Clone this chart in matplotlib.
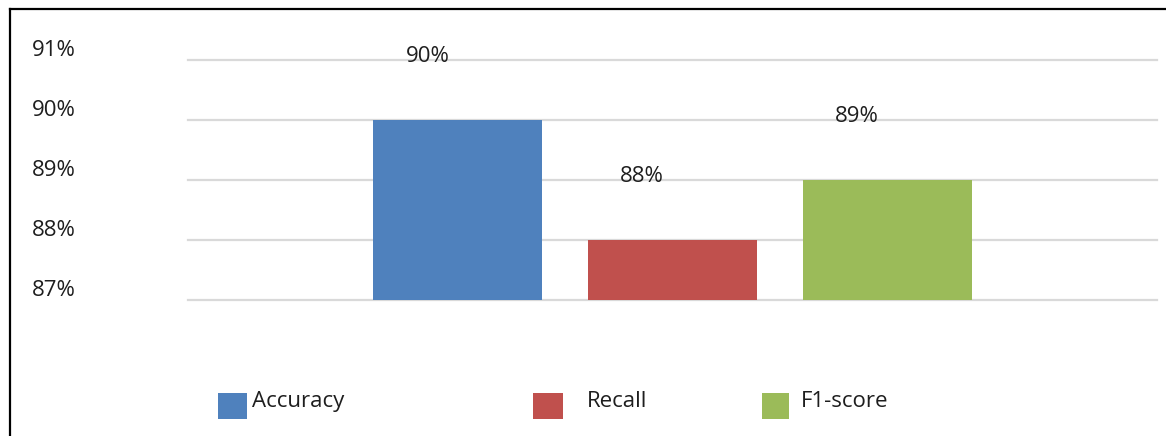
from matplotlib import pyplot as plt
from matplotlib.patches import Rectangle
from matplotlib.lines import Line2D
import numpy as np

# data
metrics = ["Accuracy", "Recall", "F1-score"]
scores = [90, 88, 89]
colors = ["#4F81BD", "#C0504D", "#9BBB59"]
y_ticks = [87, 88, 89, 90, 91]

W, H = 1166, 436
plt.rcParams["font.family"] = ["Open Sans", "DejaVu Sans"]
text_color = "#1e1e1e"
fs = 16

fig = plt.figure(figsize = (W / 100, H / 100), dpi = 100)
# plot area in pixels: x 188..1157, y 60..300
ax = fig.add_axes([188 / W, 1 - 300 / H, (1157 - 188) / W, 240 / H])

x = np.arange(len(metrics))
ax.bar(x, scores, width = 0.787, color = colors, zorder = 3)
ax.set_xlim(-1.255, 3.257)
ax.set_ylim(y_ticks[0], y_ticks[-1])

# gridlines
for v in y_ticks:
    ax.axhline(v, color = "#d9d9d9", linewidth = 1.6, zorder = 1, clip_on = False)

for s in ax.spines.values():
    s.set_visible(False)
ax.set_xticks([])
ax.set_yticks([])

# y labels sit a bit above their gridline, far left of the plot
for v in y_ticks:
    ax.annotate(f"{v}%", xy = (54 / W, v), xycoords = ("figure fraction", "data"),
                xytext = (0, 10), textcoords = "offset pixels",
                ha = "center", va = "center", fontsize = fs, color = text_color)

# data labels, roughly one unit above each bar and shifted left
for xi, v in zip(x, scores):
    ax.annotate(f"{v}%", xy = (xi, v), xytext = (-30, 64), textcoords = "offset pixels",
                ha = "center", va = "center", fontsize = fs, color = text_color,
                annotation_clip = False)

# legend drawn by hand
leg_sq = [(218, 247), (533, 563), (762, 789)]
leg_tx = [252, 587, 801]
for (x0, x1), tx, c, name in zip(leg_sq, leg_tx, colors, metrics):
    fig.add_artist(Rectangle((x0 / W, 1 - 419 / H), (x1 - x0) / W, 26 / H,
                             transform = fig.transFigure, facecolor = c, edgecolor = "none"))
    fig.text(tx / W, 1 - 401 / H, name, ha = "left", va = "center",
             fontsize = fs, color = text_color)

# frame (top and left only visible in the crop)
fig.add_artist(Line2D([10 / W, 1], [1 - 9 / H, 1 - 9 / H], transform = fig.transFigure,
                      color = "black", linewidth = 1.6))
fig.add_artist(Line2D([10 / W, 10 / W], [0, 1 - 9 / H], transform = fig.transFigure,
                      color = "black", linewidth = 1.6))

fig.savefig("out.png", dpi = 100)
